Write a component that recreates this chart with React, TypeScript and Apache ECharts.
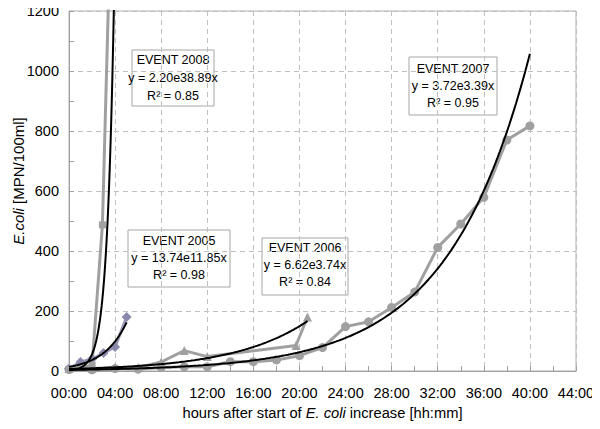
import React, { useEffect, useRef } from "react";
import * as echarts from "echarts";

// Measured data: [hours after start, MPN/100ml]
const event2005: [number, number][] = [[0, 8], [1, 30], [2, 40], [3, 60], [4, 80], [5, 180]];
const event2006: [number, number][] = [[0, 8], [2, 8], [4, 12], [6, 12], [8, 30], [10, 68], [12, 48], [19.7, 85], [20.7, 180]];
const event2007: [number, number][] = [
  [0, 5], [2, 4], [4, 8], [6, 6], [8, 12], [10, 14], [12, 14], [14, 31], [16, 31], [18, 37], [20, 51],
  [22, 78], [24, 148], [26, 164], [28, 212], [30, 263], [32, 412], [34, 490], [36, 579], [38, 770], [40, 817],
];
const event2008: [number, number][] = [[0, 5], [1, 10], [2, 20], [2.9, 487], [4, 2050]];

// Exponential trendlines printed on the chart: y = a * e^(b * days)
const trendNames = ["EVENT 2005", "EVENT 2006", "EVENT 2007", "EVENT 2008"];
const trendA = [13.74, 6.62, 3.72, 2.2];
const trendB = [11.85, 3.74, 3.39, 38.89];
const trendR2 = ["0.98", "0.84", "0.95", "0.85"];
const trendEndHour = [5, 20.7, 40, 4];

const xTicks = { min: 0, max: 44, interval: 4 };
const yTicks = { min: 0, max: 1200, interval: 200 };

function trendLine(i: number): [number, number][] {
  const pts: [number, number][] = [];
  const n = 200;
  for (let k = 0; k <= n; k++) {
    const h = (trendEndHour[i] * k) / n;
    pts.push([h, trendA[i] * Math.exp(trendB[i] * (h / 24))]);
  }
  return pts;
}

const FONT = '"Liberation Sans", Arial, sans-serif';

function box(cx: number, left: number, top: number, w: number, h: number, textTop: number, lh: number, i: number) {
  return {
    type: "group",
    z: 100,
    children: [
      {
        type: "rect",
        shape: { x: left, y: top, width: w, height: h },
        style: { fill: "#ffffff", stroke: "#a6a6a6", lineWidth: 1 },
      },
      {
        type: "text",
        style: {
          text: `${trendNames[i]}\ny = ${trendA[i].toFixed(2)}e${trendB[i].toFixed(2)}x\nR² = ${trendR2[i]}`,
          x: cx,
          y: textTop,
          align: "center",
          verticalAlign: "top",
          fontFamily: FONT,
          fontSize: 12.5,
          lineHeight: lh,
          fill: "#000000",
        },
      },
    ],
  };
}

export default function App() {
  const ref = useRef<HTMLDivElement>(null);
  useEffect(() => {
    if (!ref.current) return;
    const chart = echarts.init(ref.current, undefined, { renderer: "svg" });
    const gray = "#a0a0a0";
    const dataLine = { width: 3, color: gray };
    const trendStyle = { width: 2, color: "#000000" };
    chart.setOption({
      animation: false,
      backgroundColor: "#ffffff",
      textStyle: { fontFamily: FONT },
      grid: {
        left: 69,
        right: 24,
        top: 11,
        bottom: 58,
        containLabel: false,
        outerBoundsMode: "none",
        show: true,
        borderColor: "#b0b0b0",
        borderWidth: 1,
      },
      xAxis: {
        type: "value",
        ...xTicks,
        name: "hours after start of {i|E. coli} increase [hh:mm]",
        nameLocation: "middle",
        nameGap: 34,
        nameTextStyle: {
          fontSize: 14.7,
          color: "#000",
          rich: { i: { fontStyle: "italic", fontSize: 14.7, fontFamily: FONT } },
        },
        axisLine: { show: true, lineStyle: { color: "#a0a0a0", width: 1 } },
        axisTick: { show: true, inside: true, length: 5, lineStyle: { color: "#a0a0a0" } },
        minorTick: { show: true, splitNumber: 2, length: 5, lineStyle: { color: "#a0a0a0" } },
        axisLabel: {
          fontSize: 14.5,
          color: "#000",
          margin: 14,
          formatter: (v: number) => `${String(v).padStart(2, "0")}:00`,
        },
        splitLine: { show: true, lineStyle: { color: "#c0c0c0", type: [5, 4], width: 1 } },
      },
      yAxis: {
        type: "value",
        ...yTicks,
        axisLine: { show: true, lineStyle: { color: "#a0a0a0", width: 1 } },
        axisTick: { show: true, inside: true, length: 5, lineStyle: { color: "#a0a0a0" } },
        minorTick: { show: true, splitNumber: 2, length: 5, lineStyle: { color: "#a0a0a0" } },
        axisLabel: { fontSize: 14.5, color: "#000", margin: 10, formatter: (v: number) => String(v) },
        splitLine: { show: true, lineStyle: { color: "#c0c0c0", type: [5, 4], width: 1 } },
      },
      series: [
        {
          type: "line", name: "2007", data: event2007, symbol: "circle", symbolSize: 9,
          itemStyle: { color: gray }, lineStyle: dataLine, clip: true, z: 2,
        },
        {
          type: "line", name: "2006", data: event2006, symbol: "triangle", symbolSize: 9,
          itemStyle: { color: gray }, lineStyle: dataLine, clip: true, z: 2,
        },
        {
          type: "line", name: "2005", data: event2005, symbol: "diamond", symbolSize: 10,
          itemStyle: { color: "#8a8aac" }, lineStyle: { width: 3, color: "#9a9ab8" }, clip: true, z: 2,
        },
        {
          type: "line", name: "2008", data: event2008, symbol: "rect", symbolSize: 7,
          itemStyle: { color: gray }, lineStyle: dataLine, clip: true, z: 2,
        },
        ...[0, 1, 2, 3].map((i) => ({
          type: "line",
          name: "trend " + trendNames[i],
          data: trendLine(i),
          showSymbol: false,
          symbol: "none",
          lineStyle: trendStyle,
          clip: true,
          z: 3,
        })),
      ],
      graphic: [
        {
          type: "text",
          x: 18,
          y: 181,
          rotation: Math.PI / 2,
          style: {
            text: "{i|E.coli} [MPN/100ml]",
            align: "center",
            verticalAlign: "middle",
            fontFamily: FONT,
            fontSize: 15,
            fill: "#000",
            rich: { i: { fontStyle: "italic", fontSize: 15, fontFamily: FONT, fill: "#000" } },
          },
        },
        box(173, 132, 50, 82, 56, 51, 18, 3),
        box(179, 128, 230, 102, 57, 232, 17, 0),
        box(305, 262, 238, 86, 57, 239.5, 17, 1),
        box(453, 409, 57, 88, 58, 60, 17, 2),
      ],
    });
    return () => chart.dispose();
  }, []);
  return <div ref={ref} style={{ width: 600, height: 429, margin: -8 }} />;
}
